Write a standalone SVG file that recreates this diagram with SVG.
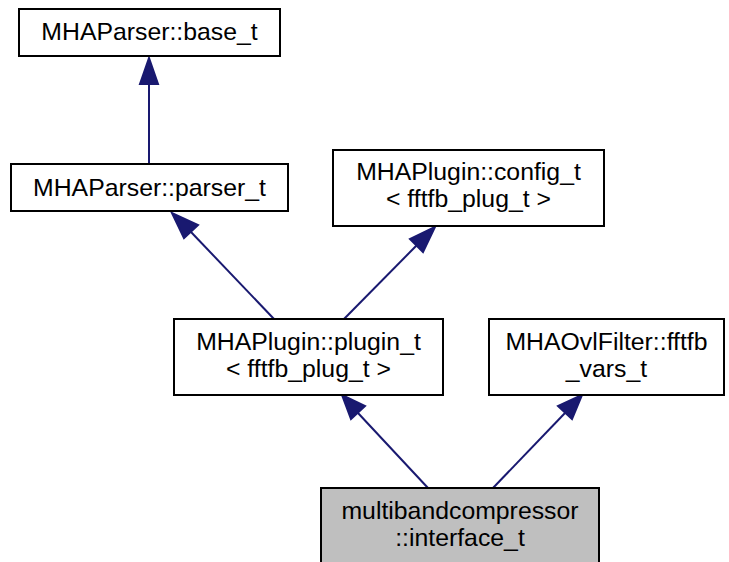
<svg xmlns="http://www.w3.org/2000/svg" width="729" height="562" viewBox="0 0 729 562">
<style>
.box{fill:#ffffff;stroke:#000000;stroke-width:2}
.hl{fill:#bfbfbf;stroke:#000000;stroke-width:2}
text{font-family:"Liberation Sans",Arial,sans-serif;font-size:24.8px;fill:#000000;text-anchor:middle}
.edge{stroke:#191970;stroke-width:2;fill:none}
.head{fill:#191970;stroke:#191970;stroke-width:2}
</style>
<rect width="729" height="562" fill="#ffffff"/>
<g id="connectors">
  <line class="edge" x1="149" y1="163" x2="149" y2="84"/>
  <polygon class="head" points="149,58 140,84 158,84"/>
  <line class="edge" x1="274" y1="319" x2="191" y2="232"/>
  <polygon class="head" points="172,213 184,238 198,225"/>
  <line class="edge" x1="344" y1="319" x2="417" y2="245"/>
  <polygon class="head" points="435,227 410,239 423,252"/>
  <line class="edge" x1="428" y1="488" x2="358" y2="413"/>
  <polygon class="head" points="342,395 351,419 365,406"/>
  <line class="edge" x1="493" y1="488" x2="565" y2="413"/>
  <polygon class="head" points="582,395 558,406 572,419"/>
</g>
<g id="base_t">
  <rect class="box" x="19" y="9" width="261" height="47"/>
  <text x="149.5" y="39.5">MHAParser::base_t</text>
</g>
<g id="parser_t">
  <rect class="box" x="11" y="164" width="277" height="47"/>
  <text x="149.5" y="195.5">MHAParser::parser_t</text>
</g>
<g id="config_t">
  <rect class="box" x="333" y="150" width="271" height="76"/>
  <text x="468.5" y="179.5">MHAPlugin::config_t</text>
  <text x="468.5" y="206.5">&lt; fftfb_plug_t &gt;</text>
</g>
<g id="plugin_t">
  <rect class="box" x="174" y="319" width="269" height="76"/>
  <text x="308.5" y="349.5">MHAPlugin::plugin_t</text>
  <text x="308.5" y="376.5">&lt; fftfb_plug_t &gt;</text>
</g>
<g id="fftfb_vars_t">
  <rect class="box" x="489" y="319" width="235" height="76"/>
  <text x="606.5" y="349.5">MHAOvlFilter::fftfb</text>
  <text x="606.5" y="376.5">_vars_t</text>
</g>
<g id="interface_t">
  <rect class="hl" x="321" y="488" width="278" height="76"/>
  <text x="460" y="518.5">multibandcompressor</text>
  <text x="460" y="545.5">::interface_t</text>
</g>
</svg>
